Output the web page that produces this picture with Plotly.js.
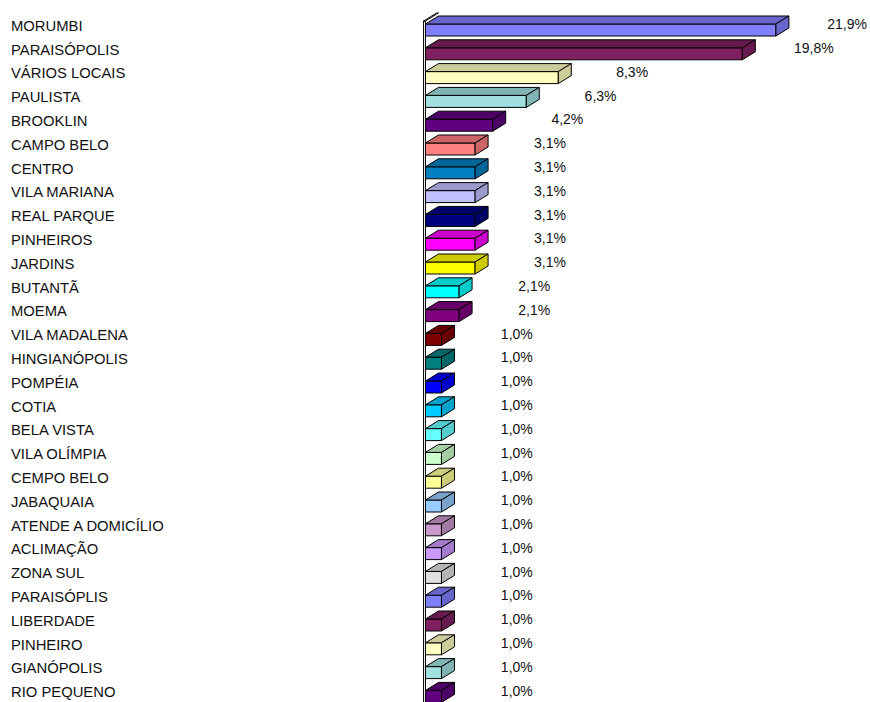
<!DOCTYPE html>
<html><head><meta charset="utf-8">
<script src="https://cdn.plot.ly/plotly-3.0.1.min.js"></script>
<style>html,body{margin:0;padding:0;background:#fff}#chart{width:870px;height:702px}</style>
</head><body><div id="chart"></div>
<script>
const categories = ["MORUMBI","PARAISÓPOLIS","VÁRIOS LOCAIS","PAULISTA","BROOKLIN","CAMPO BELO","CENTRO","VILA MARIANA","REAL PARQUE","PINHEIROS","JARDINS","BUTANTÃ","MOEMA","VILA MADALENA","HINGIANÓPOLIS","POMPÉIA","COTIA","BELA VISTA","VILA OLÍMPIA","CEMPO BELO","JABAQUAIA","ATENDE A DOMICÍLIO","ACLIMAÇÃO","ZONA SUL","PARAISÓPLIS","LIBERDADE","PINHEIRO","GIANÓPOLIS","RIO PEQUENO"];
const values = [21.9,19.8,8.3,6.3,4.2,3.1,3.1,3.1,3.1,3.1,3.1,2.1,2.1,1.0,1.0,1.0,1.0,1.0,1.0,1.0,1.0,1.0,1.0,1.0,1.0,1.0,1.0,1.0,1.0];
const frontColors = ["#8080FF","#802060","#FFFFC0","#A0E0E0","#600080","#FF8080","#0080C0","#C0C0FF","#000080","#FF00FF","#FFFF00","#00FFFF","#800080","#800000","#008080","#0000FF","#00CCFF","#66FFFF","#CCFFCC","#FFFF99","#99CCFF","#CC99CC","#CC99FF","#E0E0E0","#8080FF","#802060","#FFFFC0","#A0E0E0","#600080"];

const ROW = 23.8;                 // pixels per category row
const DX = 0.8125, DY = 8 / ROW, HALF = 6 / ROW;
function shade(hex, f){
  const n = parseInt(hex.slice(1),16);
  const r = Math.round(((n>>16)&255)*f), g = Math.round(((n>>8)&255)*f), b = Math.round((n&255)*f);
  return 'rgb('+r+','+g+','+b+')';
}
const idx = categories.map((_, i) => i);
const traces = [];
const edge = {color:'#000', width:1};
const yTop = -HALF - 3 / ROW;
// side wall of the category axis
traces.push({type:'scatter', mode:'lines', x:[-0.12,0,0,-0.12,-0.12], y:[29,29,yTop,yTop,29],
  fill:'toself', fillcolor:'#fff', line:edge, hoverinfo:'skip'});
traces.push({type:'scatter', mode:'lines', x:[-0.12,0,DX,DX-0.12,-0.12], y:[yTop,yTop,yTop-DY,yTop-DY,yTop],
  fill:'toself', fillcolor:'#fff', line:edge, hoverinfo:'skip'});
// front faces
traces.push({type:'bar', orientation:'h', x:values, y:idx, width:2*HALF, base:0,
  marker:{color:frontColors, line:edge}, hoverinfo:'skip'});
// top and side faces
values.forEach((v, i) => {
  const c = shade(frontColors[i], 0.8);
  const yt = i - HALF, yb = i + HALF;
  traces.push({type:'scatter', mode:'lines', x:[0, v, v+DX, DX, 0], y:[yt, yt, yt-DY, yt-DY, yt],
    fill:'toself', fillcolor:c, line:edge, hoverinfo:'skip'});
  traces.push({type:'scatter', mode:'lines', x:[v, v+DX, v+DX, v, v], y:[yt, yt-DY, yb-DY, yb, yt],
    fill:'toself', fillcolor:c, line:edge, hoverinfo:'skip'});
});
// value labels
traces.push({type:'scatter', mode:'text', x:values.map(v => v * 0.9875 + 4.72), y:idx.map(i => i - 0.18),
  text:values.map(v => v.toFixed(1).replace('.', ',') + '%'), textposition:'middle center',
  textfont:{size:14, color:'#111', family:'"Liberation Sans", Arial, sans-serif'}, hoverinfo:'skip'});

const annotations = categories.map((c, i) => ({xref:'paper', x:10/870, xanchor:'left', yref:'y', y:i-0.18,
  text:c, showarrow:false, borderpad:0, font:{size:14.8, color:'#111', family:'"Liberation Sans", Arial, sans-serif'}}));

const yMin = -30 / ROW;
const layout = {
  width:870, height:702, margin:{l:0, r:0, t:0, b:0},
  paper_bgcolor:'#fff', plot_bgcolor:'#fff', showlegend:false,
  xaxis:{range:[-26.59, 27.78], visible:false, fixedrange:true},
  yaxis:{range:[yMin + 702 / ROW, yMin], visible:false, fixedrange:true},
  annotations: annotations,
  font:{family:'"Liberation Sans", Arial, sans-serif'}
};
Plotly.newPlot('chart', traces, layout, {staticPlot:true});
</script></body></html>
